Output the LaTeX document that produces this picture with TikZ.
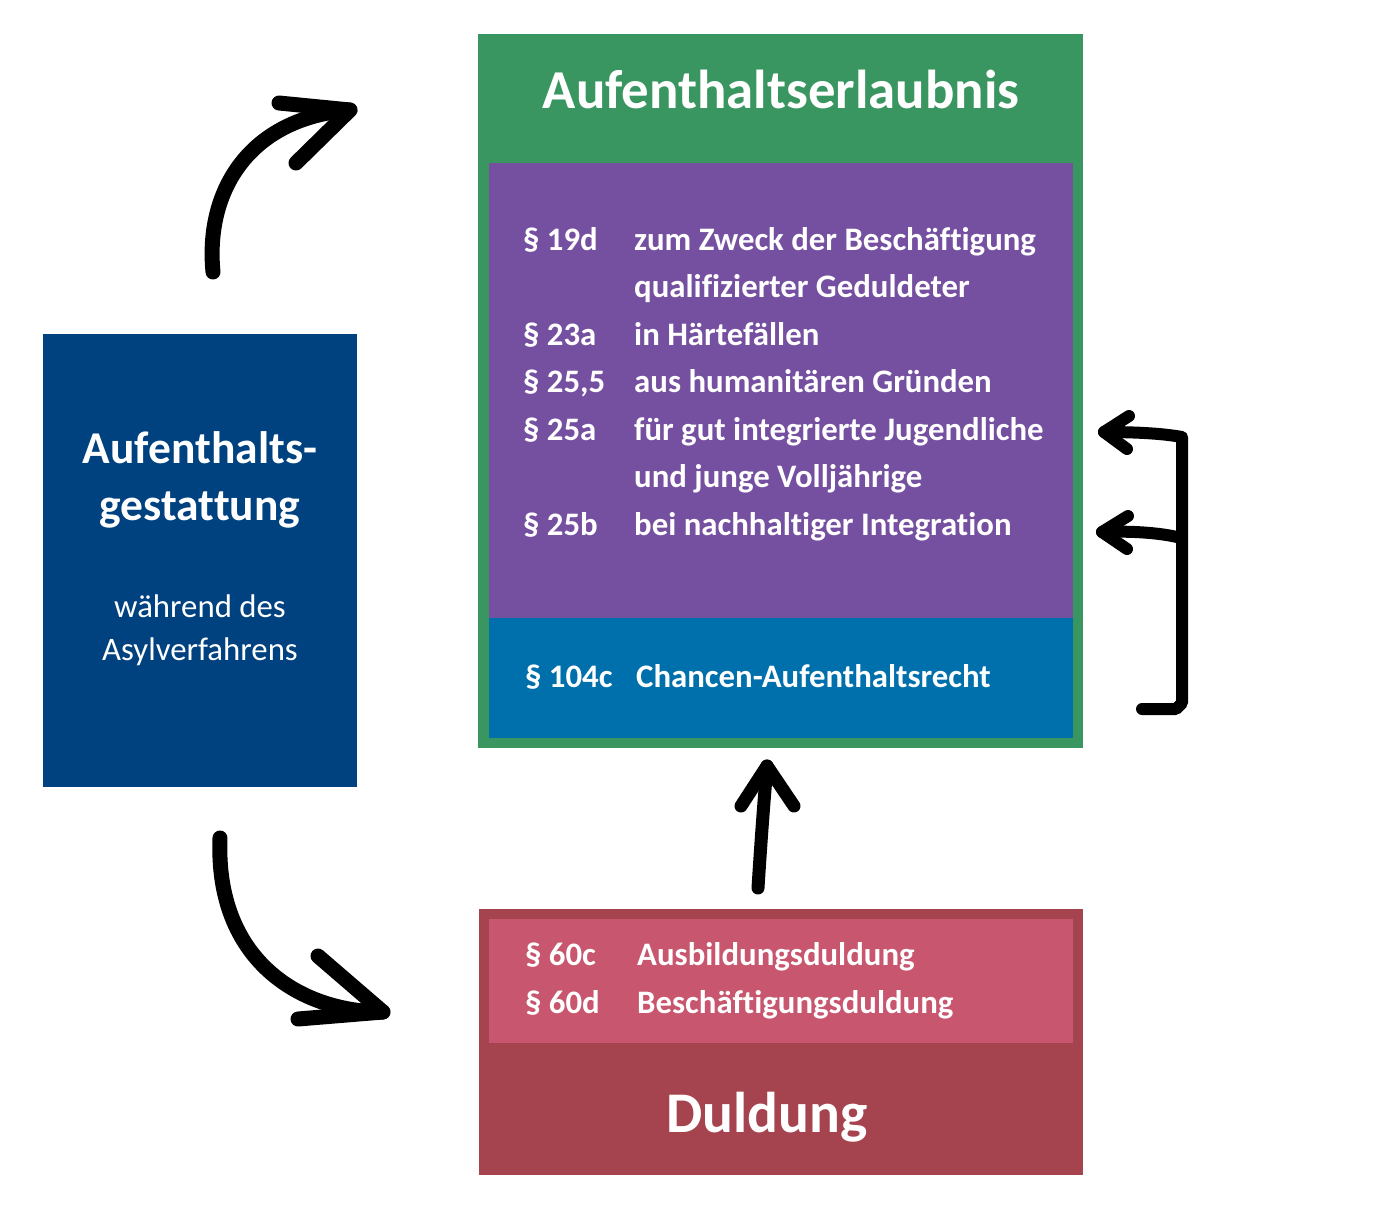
\documentclass[tikz,border=0pt]{standalone}
\usepackage{fontspec}
\setmainfont{Carlito}[Ligatures=NoCommon]

\definecolor{erlaubnisgreen}{RGB}{58,150,96}
\definecolor{paragraphpurple}{RGB}{118,80,160}
\definecolor{chancenblue}{RGB}{0,112,173}
\definecolor{gestattungblue}{RGB}{0,66,127}
\definecolor{duldungred}{RGB}{165,67,79}
\definecolor{duldungpink}{RGB}{200,86,110}

\begin{document}
\begin{tikzpicture}[x=1pt,y=-1pt,
    block/.style={anchor=north west, inner sep=0pt, outer sep=0pt, draw=none},
    para/.style={anchor=base west, inner sep=0pt, text=white, font=\bfseries\fontsize{32.8}{38}\selectfont},
    heading/.style={anchor=base, inner sep=0pt, text=white, font=\bfseries\fontsize{#1}{#1}\selectfont},
    subline/.style={anchor=base, inner sep=0pt, text=white, font=\fontsize{32.8}{36}\selectfont},
    pen/.style={line width=#1, line cap=round, line join=round, black}, pen/.default=15pt]

\useasboundingbox (0,0) rectangle (1374,1216);

% boxes, placed at their top left corners
\node[block, fill=erlaubnisgreen, minimum width=605, minimum height=714] (erlaubnis) at (478,34) {};
\node[block, fill=paragraphpurple, minimum width=584, minimum height=455] (paragraphs) at (489,163) {};
\node[block, fill=chancenblue, minimum width=584, minimum height=120] (chancen) at (489,618) {};
\node[block, fill=gestattungblue, minimum width=314, minimum height=453] (gestattung) at (43,334) {};
\node[block, fill=duldungred, minimum width=604, minimum height=266] (duldung) at (479,909) {};
\node[block, fill=duldungpink, minimum width=584, minimum height=124] (duldungparas) at (489,919) {};

% headings
\node[heading=54.8] (erlaubnistitle) at (781,108) {Aufenthaltserlaubnis};
\node[heading=57.5] (duldungtitle) at (767,1132) {Duldung};
\node[heading=45.5] (gestattungtitleA) at (200,463) {Aufenthalts-};
\node[heading=45.5] (gestattungtitleB) at (200,520) {gestattung};
\node[subline] (gestattungsubA) at (200,617) {während des};
\node[subline] (gestattungsubB) at (200,660) {Asylverfahrens};

% paragraphs of the Aufenthaltserlaubnis
\foreach \nr/\txt [count=\i from 0] in {
    {\S\ 19d}/{zum Zweck der Beschäftigung},
    {}/{qualifizierter Geduldeter},
    {\S\ 23a}/{in Härtefällen},
    {\S\ 25,5}/{aus humanitären Gründen},
    {\S\ 25a}/{für gut integrierte Jugendliche},
    {}/{und junge Volljährige},
    {\S\ 25b}/{bei nachhaltiger Integration}} {
    \node[para] (nr\i) at (523,250+47.5*\i) {\nr};
    \node[para] (txt\i) at (634,250+47.5*\i) {\txt};
}

\node[para] (nrchancen) at (525,687) {\S\ 104c};
\node[para] (txtchancen) at (636,687) {Chancen-Aufenthaltsrecht};

% paragraphs of the Duldung
\node[para] (nrausb) at (525,965) {\S\ 60c};
\node[para] (txtausb) at (637,965) {Ausbildungsduldung};
\node[para] (nrbesch) at (525,1013) {\S\ 60d};
\node[para] (txtbesch) at (637,1013) {Beschäftigungsduldung};

% arrow ends
\coordinate (upstart) at (213,272);
\coordinate (uptip) at (350,110);
\coordinate (downstart) at (220,838);
\coordinate (downtip) at (383,1012);
\coordinate (midstart) at (758,888);
\coordinate (midtip) at (767,766);
\coordinate (bracktop) at (1182,437);
\coordinate (brackmid) at (1177,537);
\coordinate (brackbot) at (1182,703);
\coordinate (toptip) at (1104,432);
\coordinate (midtipR) at (1102,532);

% Gestattung -> Erlaubnis
\draw[pen] (upstart) .. controls (205,190) and (250,118) .. (uptip);
\draw[pen] (279,103) -- (uptip) -- (296,163);

% Gestattung -> Duldung
\draw[pen] (downstart) .. controls (215,960) and (300,1012) .. (downtip);
\draw[pen] (318,956) -- (downtip) -- (298,1019);

% Duldung -> Erlaubnis
\draw[pen=13pt] (midstart) .. controls (761,840) and (764,800) .. (midtip);
\draw[pen=13pt] (741,806) -- (midtip) -- (794,806);

% bracket from Chancen-Aufenthaltsrecht
\draw[pen=12pt] (1142,709) -- (1176,709) -- (brackbot) -- (bracktop) .. controls (1160,433) and (1130,432) .. (toptip);
\draw[pen=12pt] (1129,416) -- (toptip) -- (1127,449);
\draw[pen=12pt] (brackmid) .. controls (1155,532) and (1125,531) .. (midtipR);
\draw[pen=12pt] (1128,516) -- (midtipR) -- (1127,549);

\end{tikzpicture}
\end{document}
